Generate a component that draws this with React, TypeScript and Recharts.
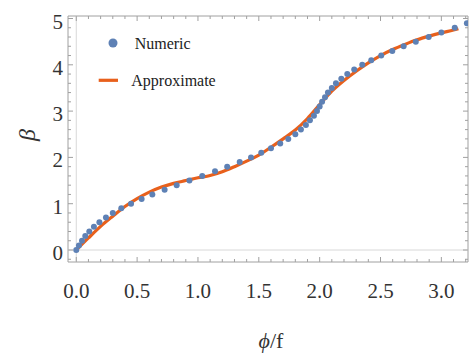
import {
  ComposedChart,
  XAxis,
  YAxis,
  Line,
  Scatter,
  ReferenceLine,
  ReferenceArea,
  Label,
} from "recharts";

// numeric solution: sampled at beta = 0, 0.1, ..., 4.9
const NUMERIC_PHI = [
  0, 0.022, 0.047, 0.074, 0.107, 0.145, 0.19, 0.244, 0.3, 0.37,
  0.45, 0.537, 0.625, 0.726, 0.825, 0.93, 1.035, 1.14, 1.24, 1.343,
  1.436, 1.52, 1.6, 1.676, 1.742, 1.8, 1.846, 1.887, 1.92, 1.953,
  1.978, 2.0, 2.02, 2.044, 2.068, 2.1, 2.134, 2.178, 2.227, 2.284,
  2.35, 2.424, 2.506, 2.597, 2.69, 2.79, 2.896, 3.0, 3.11, 3.21,
];
const NUMERIC_BETA = [
  0, 0.1, 0.2, 0.3, 0.4, 0.5, 0.6, 0.7, 0.8, 0.9,
  1.0, 1.1, 1.2, 1.3, 1.4, 1.5, 1.6, 1.7, 1.8, 1.9,
  2.0, 2.1, 2.2, 2.3, 2.4, 2.5, 2.6, 2.7, 2.8, 2.9,
  3.0, 3.1, 3.2, 3.3, 3.4, 3.5, 3.6, 3.7, 3.8, 3.9,
  4.0, 4.1, 4.2, 4.3, 4.4, 4.5, 4.6, 4.7, 4.8, 4.9,
];

// approximate curve
const APPROX_PHI = [
  0, 0.1, 0.2, 0.3, 0.4, 0.5, 0.6, 0.7, 0.8, 0.9, 1.0, 1.1, 1.2, 1.3, 1.4,
  1.5, 1.6, 1.7, 1.8, 1.9, 2.0, 2.1, 2.2, 2.3, 2.4, 2.5, 2.6, 2.7, 2.8, 2.9,
  3.0, 3.1, 3.14,
];
const APPROX_BETA = [
  0, 0.26, 0.51, 0.73, 0.94, 1.11, 1.25, 1.36, 1.44, 1.5, 1.56, 1.61, 1.69,
  1.8, 1.92, 2.05, 2.22, 2.4, 2.59, 2.84, 3.14, 3.43, 3.66, 3.86, 4.04, 4.2,
  4.33, 4.44, 4.54, 4.62, 4.69, 4.75, 4.78,
];

const X_TICKS = [
  0, 0.1, 0.2, 0.3, 0.4, 0.5, 0.6, 0.7, 0.8, 0.9, 1.0, 1.1, 1.2, 1.3, 1.4,
  1.5, 1.6, 1.7, 1.8, 1.9, 2.0, 2.1, 2.2, 2.3, 2.4, 2.5, 2.6, 2.7, 2.8, 2.9,
  3.0, 3.1, 3.2,
];
const X_LABELS = ["0.0", "0.5", "1.0", "1.5", "2.0", "2.5", "3.0"];
const Y_TICKS = [
  -0.2, 0, 0.2, 0.4, 0.6, 0.8, 1, 1.2, 1.4, 1.6, 1.8, 2, 2.2, 2.4, 2.6, 2.8,
  3, 3.2, 3.4, 3.6, 3.8, 4, 4.2, 4.4, 4.6, 4.8, 5,
];
const Y_LABELS = ["0", "1", "2", "3", "4", "5"];

const numericData = NUMERIC_PHI.map((x, i) => ({ x, y: NUMERIC_BETA[i] }));
const approxData = APPROX_PHI.map((x, i) => ({ x, y: APPROX_BETA[i] }));

const W = 463;
const H = 352;
const TOP = 8;
const LEFT = 60;
const RIGHT = 460;
const BOTTOM = 254;

const FRAME = "#a0a0a0";
const BLUE = "#5e81b5";
const ORANGE = "#e8601c";
const FONT = "'Liberation Serif', 'DejaVu Serif', serif";
const TEXT = "#333";

function XTick({ x, payload }: any) {
  const v = payload.value;
  const idx = Math.round(v * 2);
  const major = Math.abs(v * 2 - idx) < 1e-6;
  const len = major ? 5 : 3;
  return (
    <g>
      <line x1={x} x2={x} y1={BOTTOM} y2={BOTTOM - len} stroke={FRAME} />
      <line x1={x} x2={x} y1={TOP} y2={TOP + len} stroke={FRAME} />
      {major && (
        <text
          x={x}
          y={289.5}
          textAnchor="middle"
          fontFamily={FONT}
          fontSize={21}
          fill={TEXT}
        >
          {X_LABELS[idx]}
        </text>
      )}
    </g>
  );
}

function YTick({ y, payload }: any) {
  const v = payload.value;
  const idx = Math.round(v);
  const major = Math.abs(v - idx) < 1e-6;
  const len = major ? 5 : 3;
  return (
    <g>
      <line x1={LEFT} x2={LEFT + len} y1={y} y2={y} stroke={FRAME} />
      <line x1={RIGHT} x2={RIGHT - len} y1={y} y2={y} stroke={FRAME} />
      {major && idx >= 0 && (
        <text
          x={55}
          y={y + 3}
          textAnchor="end"
          dominantBaseline="central"
          fontFamily={FONT}
          fontSize={21}
          fill={TEXT}
        >
          {Y_LABELS[idx]}
        </text>
      )}
    </g>
  );
}

const xLabel = ({ viewBox }: any) => (
  <text
    x={viewBox.x + viewBox.width / 2 + 3}
    y={viewBox.y + 86}
    textAnchor="middle"
    fontFamily={FONT}
    fontSize={22}
    fill={TEXT}
  >
    <tspan fontStyle="italic">ϕ</tspan>
    <tspan>/f</tspan>
  </text>
);

const yLabel = ({ viewBox }: any) => (
  <text
    x={19}
    y={viewBox.y + viewBox.height / 2 - 4}
    textAnchor="middle"
    dominantBaseline="central"
    transform={`rotate(-90 19 ${viewBox.y + viewBox.height / 2 - 4})`}
    fontFamily={FONT}
    fontSize={24}
    fontStyle="italic"
    fill={TEXT}
  >
    β
  </text>
);

export default function App() {
  return (
    <div style={{ padding: "8px 0 0 8px", width: W, height: H }}>
      <style>{"body{margin:0;overflow:hidden}"}</style>
      <div style={{ position: "relative", width: W, height: H }}>
        <ComposedChart
          width={W}
          height={H}
          margin={{ top: TOP, right: W - RIGHT, bottom: 0, left: 0 }}
        >
          <XAxis
            type="number"
            dataKey="x"
            domain={[-0.068, 3.219]}
            allowDataOverflow
            ticks={X_TICKS}
            interval={0}
            tick={<XTick />}
            axisLine={false}
            tickLine={false}
            height={H - BOTTOM}
          >
            <Label content={xLabel} />
          </XAxis>
          <YAxis
            type="number"
            dataKey="y"
            domain={[-0.259, 5.054]}
            allowDataOverflow
            ticks={Y_TICKS}
            interval={0}
            tick={<YTick />}
            axisLine={false}
            tickLine={false}
            width={LEFT}
          >
            <Label content={yLabel} />
          </YAxis>
          <ReferenceArea
            x1={-0.068}
            x2={3.219}
            y1={-0.259}
            y2={5.054}
            fill="none"
            stroke={FRAME}
            strokeWidth={1}
            ifOverflow="visible"
          />
          <ReferenceLine y={0} stroke="#d8d8d8" />
          <ReferenceLine x={0} stroke="#d8d8d8" />
          <Line
            data={approxData}
            dataKey="y"
            type="monotone"
            stroke={ORANGE}
            strokeWidth={3.2}
            dot={false}
            activeDot={false}
            isAnimationActive={false}
          />
          <Scatter
            data={numericData}
            dataKey="y"
            fill={BLUE}
            isAnimationActive={false}
            shape={(p: any) => <circle cx={p.cx} cy={p.cy} r={3} fill={BLUE} />}
          />
        </ComposedChart>
        <svg
          width={W}
          height={H}
          style={{ position: "absolute", left: 0, top: 0, pointerEvents: "none" }}
        >
          <circle cx={105} cy={35} r={4.5} fill={BLUE} />
          <text x={126.7} y={41} fontFamily={FONT} fontSize={16} fill="#222">
            Numeric
          </text>
          <line x1={90.7} x2={110} y1={72.3} y2={72.3} stroke={ORANGE} strokeWidth={3.2} />
          <text x={123.3} y={78} fontFamily={FONT} fontSize={16} fill="#222">
            Approximate
          </text>
        </svg>
      </div>
    </div>
  );
}
